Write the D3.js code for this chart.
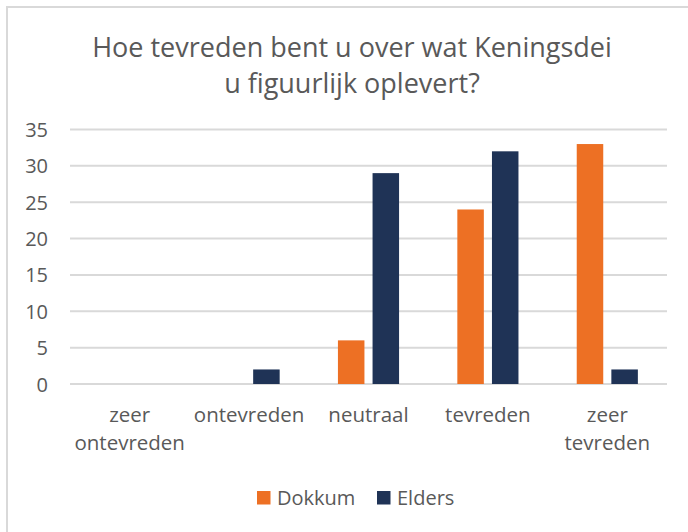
<!DOCTYPE html>
<html>
<head>
<meta charset="UTF-8" />
<title>Keningsdei</title>
<script src="https://cdnjs.cloudflare.com/ajax/libs/d3/7.8.5/d3.min.js"></script>
<style>
    body { margin: 0; background: #fff; }
    svg text { font-family: "Open Sans", "Noto Sans", sans-serif; fill: #595959; }
</style>
</head>
<body>
<div id="chart"></div>
<script>
    // data
    var categories = [["zeer", "ontevreden"], ["ontevreden"], ["neutraal"], ["tevreden"], ["zeer", "tevreden"]];
    var seriesNames = ["Dokkum", "Elders"];
    var dokkum = [0, 0, 6, 24, 33];
    var elders = [0, 2, 29, 32, 2];
    var yTicks = [0, 5, 10, 15, 20, 25, 30, 35];
    var titleLines = ["Hoe tevreden bent u over wat Keningsdei", "u figuurlijk oplevert?"];
    var colors = ["#ED7024", "#1F3356"];

    var W = 688, H = 532;
    var plot = { left: 70, right: 667, top: 129.5, bottom: 384 };

    var svg = d3.select("#chart").append("svg").attr("width", W).attr("height", H);

    // chart frame
    svg.append("rect").attr("x", 7).attr("y", 7).attr("width", W).attr("height", H)
        .attr("fill", "#fff").attr("stroke", "#d9d9d9").attr("stroke-width", 2);

    // title
    svg.append("text").attr("text-anchor", "middle").attr("font-size", 27)
        .selectAll("tspan").data(titleLines).enter().append("tspan")
        .attr("x", 352).attr("y", function (d, i) { return 57 + i * 36; })
        .text(function (d) { return d; });

    var idx = d3.range(categories.length);
    var x0 = d3.scaleBand().domain(idx).range([plot.left, plot.right]);
    var step = x0.bandwidth();
    var barW = step * 0.222, gap = step * 0.068;
    var x1 = d3.scaleOrdinal().domain([0, 1])
        .range([step / 2 - gap / 2 - barW, step / 2 + gap / 2]);
    var y = d3.scaleLinear().domain([0, 35]).range([plot.bottom, plot.top]);

    // grid
    svg.append("g").selectAll("line").data(yTicks).enter().append("line")
        .attr("x1", plot.left).attr("x2", plot.right)
        .attr("y1", function (d) { return y(d); }).attr("y2", function (d) { return y(d); })
        .attr("stroke", "#d9d9d9").attr("stroke-width", 2);

    // y labels
    svg.append("g").selectAll("text").data(yTicks).enter().append("text")
        .attr("x", 48).attr("y", function (d) { return y(d) + 7.5; })
        .attr("text-anchor", "end").attr("font-size", 20)
        .text(function (d) { return d; });

    // bars
    var series = [dokkum, elders];
    series.forEach(function (vals, s) {
        svg.append("g").selectAll("rect").data(vals).enter().append("rect")
            .attr("x", function (d, i) { return x0(i) + x1(s); })
            .attr("y", function (d) { return y(d); })
            .attr("width", barW)
            .attr("height", function (d) { return y(0) - y(d); })
            .attr("fill", colors[s]);
    });

    // category labels
    var cat = svg.append("g").selectAll("text").data(categories).enter().append("text")
        .attr("text-anchor", "middle").attr("font-size", 20.5);
    cat.selectAll("tspan").data(function (d, i) { return d.map(function (t) { return { t: t, i: i }; }); })
        .enter().append("tspan")
        .attr("x", function (d) { return x0(d.i) + step / 2; })
        .attr("y", function (d, j) { return 422 + j * 28.3; })
        .text(function (d) { return d.t; });

    // legend
    var legend = svg.append("g");
    var lx = [257, 377];
    seriesNames.forEach(function (n, s) {
        legend.append("rect").attr("x", lx[s]).attr("y", 491).attr("width", 13.5).attr("height", 13.5)
            .attr("fill", colors[s]);
        legend.append("text").attr("x", lx[s] + 20).attr("y", 505).attr("font-size", 20).text(n);
    });
</script>
</body>
</html>
